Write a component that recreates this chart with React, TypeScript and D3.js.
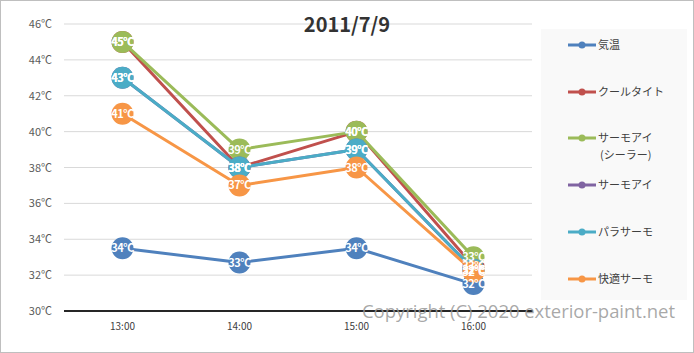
import {useEffect, useRef} from "react";
import * as d3 from "d3";

const times = ["13:00", "14:00", "15:00", "16:00"];
const yTicks = [30, 32, 34, 36, 38, 40, 42, 44, 46];

const seriesNames = ["気温", "クールタイト", "サーモアイ\n(シーラー)", "サーモアイ", "パラサーモ", "快適サーモ"];
const kion = [33.5, 32.7, 33.5, 31.5];
const coolTight = [45, 38, 40, 32.5];
const thermoEyeSealer = [45, 39, 40, 33];
const thermoEye = [43, 38, 39, 32.3];
const paraThermo = [43, 38, 39, 32.3];
const kaitekiThermo = [41, 37, 38, 32.2];
const colors = ["#4f81bd", "#c0504d", "#9bbb59", "#8064a2", "#4bacc6", "#f79646"];

const font = "'Noto Sans CJK JP', 'Noto Sans', sans-serif";

export default function App() {
    const ref = useRef<SVGSVGElement>(null);

    useEffect(() => {
        const width = 694, height = 353;
        const svg = d3.select(ref.current);
        svg.selectAll("*").remove();

        const allSeries = [kion, coolTight, thermoEyeSealer, thermoEye, paraThermo, kaitekiThermo];

        // outer frame
        svg.append("rect")
            .attr("x", 0.5).attr("y", 0.5)
            .attr("width", width - 1).attr("height", height - 1)
            .attr("fill", "white").attr("stroke", "#bfbfbf");

        const x = d3.scaleBand().domain(times).range([64, 532]);
        const y = d3.scaleLinear().domain([30, 46]).range([311, 24]);
        const cx = (t) => x(t) + x.bandwidth() / 2;

        // gridlines
        svg.selectAll(".grid")
            .data(yTicks.filter(d => d > 30))
            .enter().append("line")
            .attr("x1", 64).attr("x2", 532)
            .attr("y1", d => y(d)).attr("y2", d => y(d))
            .attr("stroke", "#d9d9d9").attr("stroke-width", 1);

        // y labels
        svg.selectAll(".ylab")
            .data(yTicks)
            .enter().append("text")
            .attr("x", 52).attr("y", d => y(d) + 4)
            .attr("text-anchor", "end")
            .attr("font-family", font).attr("font-size", 11)
            .attr("fill", "#595959")
            .text(d => d + "℃");

        // x labels
        svg.selectAll(".xlab")
            .data(times)
            .enter().append("text")
            .attr("x", d => cx(d)).attr("y", 330)
            .attr("text-anchor", "middle")
            .attr("font-family", font).attr("font-size", 10)
            .attr("fill", "#404040")
            .text(d => d);

        // lines + markers
        const line = d3.line().x((d, i) => cx(times[i])).y(d => y(d));
        allSeries.forEach((vals, s) => {
            svg.append("path")
                .attr("d", line(vals))
                .attr("fill", "none")
                .attr("stroke", colors[s])
                .attr("stroke-width", 3)
                .attr("stroke-linejoin", "round");
            svg.selectAll(".m" + s)
                .data(vals)
                .enter().append("circle")
                .attr("cx", (d, i) => cx(times[i]))
                .attr("cy", d => y(d))
                .attr("r", 11)
                .attr("fill", colors[s]);
        });

        // data labels
        allSeries.forEach((vals, s) => {
            svg.selectAll(".l" + s)
                .data(vals)
                .enter().append("text")
                .attr("x", (d, i) => cx(times[i]))
                .attr("y", d => y(d) + 4)
                .attr("text-anchor", "middle")
                .attr("font-family", font).attr("font-size", 11)
                .attr("font-weight", "bold")
                .attr("fill", "white")
                .attr("letter-spacing", -0.5)
                .text(d => Math.round(d) + "℃");
        });

        // axis line
        svg.append("line")
            .attr("x1", 64).attr("x2", 533)
            .attr("y1", 311).attr("y2", 311)
            .attr("stroke", "#262626").attr("stroke-width", 2);

        // title
        svg.append("text")
            .attr("x", 347).attr("y", 32)
            .attr("text-anchor", "middle")
            .attr("font-family", font).attr("font-size", 20)
            .attr("font-weight", "bold")
            .attr("fill", "#333333")
            .text("2011/7/9");

        // legend
        svg.append("rect")
            .attr("x", 541).attr("y", 29)
            .attr("width", 146).attr("height", 271)
            .attr("fill", "#f9f9f9");
        const legendY = [45, 92, 138, 185, 232, 279];
        seriesNames.forEach((name, s) => {
            const g = svg.append("g").attr("transform", "translate(0," + legendY[s] + ")");
            g.append("line")
                .attr("x1", 568).attr("x2", 596)
                .attr("stroke", colors[s]).attr("stroke-width", 3);
            g.append("circle").attr("cx", 582).attr("r", 3.5).attr("fill", colors[s]);
            const t = g.append("text")
                .attr("x", 598).attr("y", 4)
                .attr("font-family", font).attr("font-size", 11)
                .attr("fill", "#404040");
            name.split("\n").forEach((part, i) => {
                t.append("tspan").attr("x", i ? 600 : 598).attr("dy", i ? 17 : 0).text(part);
            });
        });

        // watermark
        svg.append("text")
            .attr("x", 362).attr("y", 318)
            .attr("font-family", "'Open Sans', sans-serif").attr("font-size", 18.5)
            .attr("fill", "#999999").attr("fill-opacity", 0.85)
            .attr("textLength", 313)
            .text("Copyright (C) 2020 exterior-paint.net");
    }, []);

    return <svg ref={ref} width={694} height={353} style={{position: "absolute", left: 0, top: 0}}></svg>;
}
